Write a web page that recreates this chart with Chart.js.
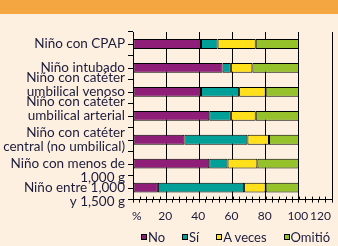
<!DOCTYPE html>
<html>
<head>
<meta charset="utf-8">
<script src="https://cdn.jsdelivr.net/npm/chart.js@4"></script>
<style>
  html, body { margin: 0; padding: 0; background: #fef0e1; }
  body { position: relative; width: 338px; height: 246px; overflow: hidden; }
  .band { height: 14px; background: #f4a641; }
  .wrap { position: relative; width: 338px; height: 232px; }
  #legend {
    position: absolute; left: 141px; top: 229px;
    display: flex; gap: 17px; align-items: center;
    font: 13px Lato, "Open Sans", sans-serif; color: #1c1c3a;
    line-height: 16px; white-space: nowrap;
  }
  #legend span.item { display: flex; align-items: center; }
  #legend i { display: inline-block; width: 4px; height: 4px; border: 1px solid #000; margin-right: 1px; }
</style>
</head>
<body>
<div class="band"></div>
<div class="wrap"><canvas id="chart"></canvas></div>
<div id="legend"></div>
<script>
// categories (multi-line labels, blank lines shift the text like in the print)
const categories = [
    'Niño con CPAP',
    'Niño intubado',
    ['Niño con catéter', 'umbilical venoso', ''],
    ['Niño con catéter', 'umbilical arterial', ''],
    ['Niño con catéter', 'central (no umbilical)'],
    ['', 'Niño con menos de', '1,000 g'],
    ['', 'Niño entre 1,000', 'y 1,500 g']
];

// percentages per answer
const no      = [41, 54, 41, 46, 31, 46, 15];
const si      = [10,  5, 23, 13, 38, 11, 52];
const aVeces  = [23, 13, 16, 15, 13, 18, 13];
const omitio  = [26, 28, 20, 26, 18, 25, 20];

const seriesNames = ['No', 'Sí', 'A veces', 'Omitió'];
const seriesColors = ['#8e1e78', '#00a098', '#ffe01a', '#95c12b'];

const textColor = '#1c1c3a';
const fontFamily = 'Lato, "Open Sans", sans-serif';

// legend as html
document.getElementById('legend').innerHTML = seriesNames.map((n, i) =>
    `<span class="item"><i style="background:${seriesColors[i]}"></i>${n}</span>`).join('');

// small ticks: inner half of x ticks, and y ticks at category centres
const extraTicks = {
    id: 'extraTicks',
    afterDraw(chart) {
        const { ctx, scales: { x, y } } = chart;
        ctx.save();
        ctx.strokeStyle = '#000';
        ctx.lineWidth = 1;
        ctx.beginPath();
        x.ticks.forEach(t => {
            const px = Math.round(x.getPixelForValue(t.value)) + 0.5;
            ctx.moveTo(px, x.top - 3);
            ctx.lineTo(px, x.top);
        });
        categories.forEach((c, i) => {
            const py = Math.round(y.getPixelForValue(i)) + 0.5;
            ctx.moveTo(y.right - 5, py);
            ctx.lineTo(y.right, py);
        });
        ctx.stroke();
        ctx.restore();
    }
};

const values = [no, si, aVeces, omitio];

new Chart(document.getElementById('chart'), {
    type: 'bar',
    data: {
        labels: categories,
        datasets: values.map((v, i) => ({
            label: seriesNames[i],
            data: v,
            backgroundColor: seriesColors[i],
            borderColor: '#000',
            borderWidth: 1,
            borderSkipped: false,
            barPercentage: 0.82,
            categoryPercentage: 0.5
        }))
    },
    options: {
        indexAxis: 'y',
        responsive: true,
        maintainAspectRatio: false,
        animation: false,
        layout: { padding: { top: 18, left: 2, right: 5, bottom: 17 } },
        plugins: {
            legend: { display: false },
            tooltip: { enabled: false }
        },
        scales: {
            x: {
                stacked: true,
                min: 0,
                max: 120,
                border: { display: true, color: '#000', width: 1 },
                grid: {
                    color: c => (c.tick && c.tick.value % 20 === 0) ? '#000' : 'rgba(0,0,0,0)',
                    tickColor: '#000',
                    tickLength: 3,
                    lineWidth: 1
                },
                ticks: {
                    stepSize: 4,
                    autoSkip: false,
                    maxRotation: 0,
                    align: 'inner',
                    labelOffset: -1,
                    padding: 6,
                    color: textColor,
                    font: { family: fontFamily, size: 12 },
                    callback: v => v === 0 ? '%' : (v % 20 === 0 ? String(v) : '')
                }
            },
            y: {
                stacked: true,
                border: { display: true, color: '#000', width: 1 },
                grid: {
                    drawOnChartArea: false,
                    offset: true,
                    tickColor: '#000',
                    tickLength: 5
                },
                ticks: {
                    autoSkip: false,
                    padding: 3,
                    color: textColor,
                    font: { family: fontFamily, size: 13.5, lineHeight: 1.05 }
                },
                afterFit: s => {
                    s.width = 131;
                    s.paddingTop = 0;
                    s.paddingBottom = 0;
                }
            }
        }
    },
    plugins: [extraTicks]
});
</script>
</body>
</html>
